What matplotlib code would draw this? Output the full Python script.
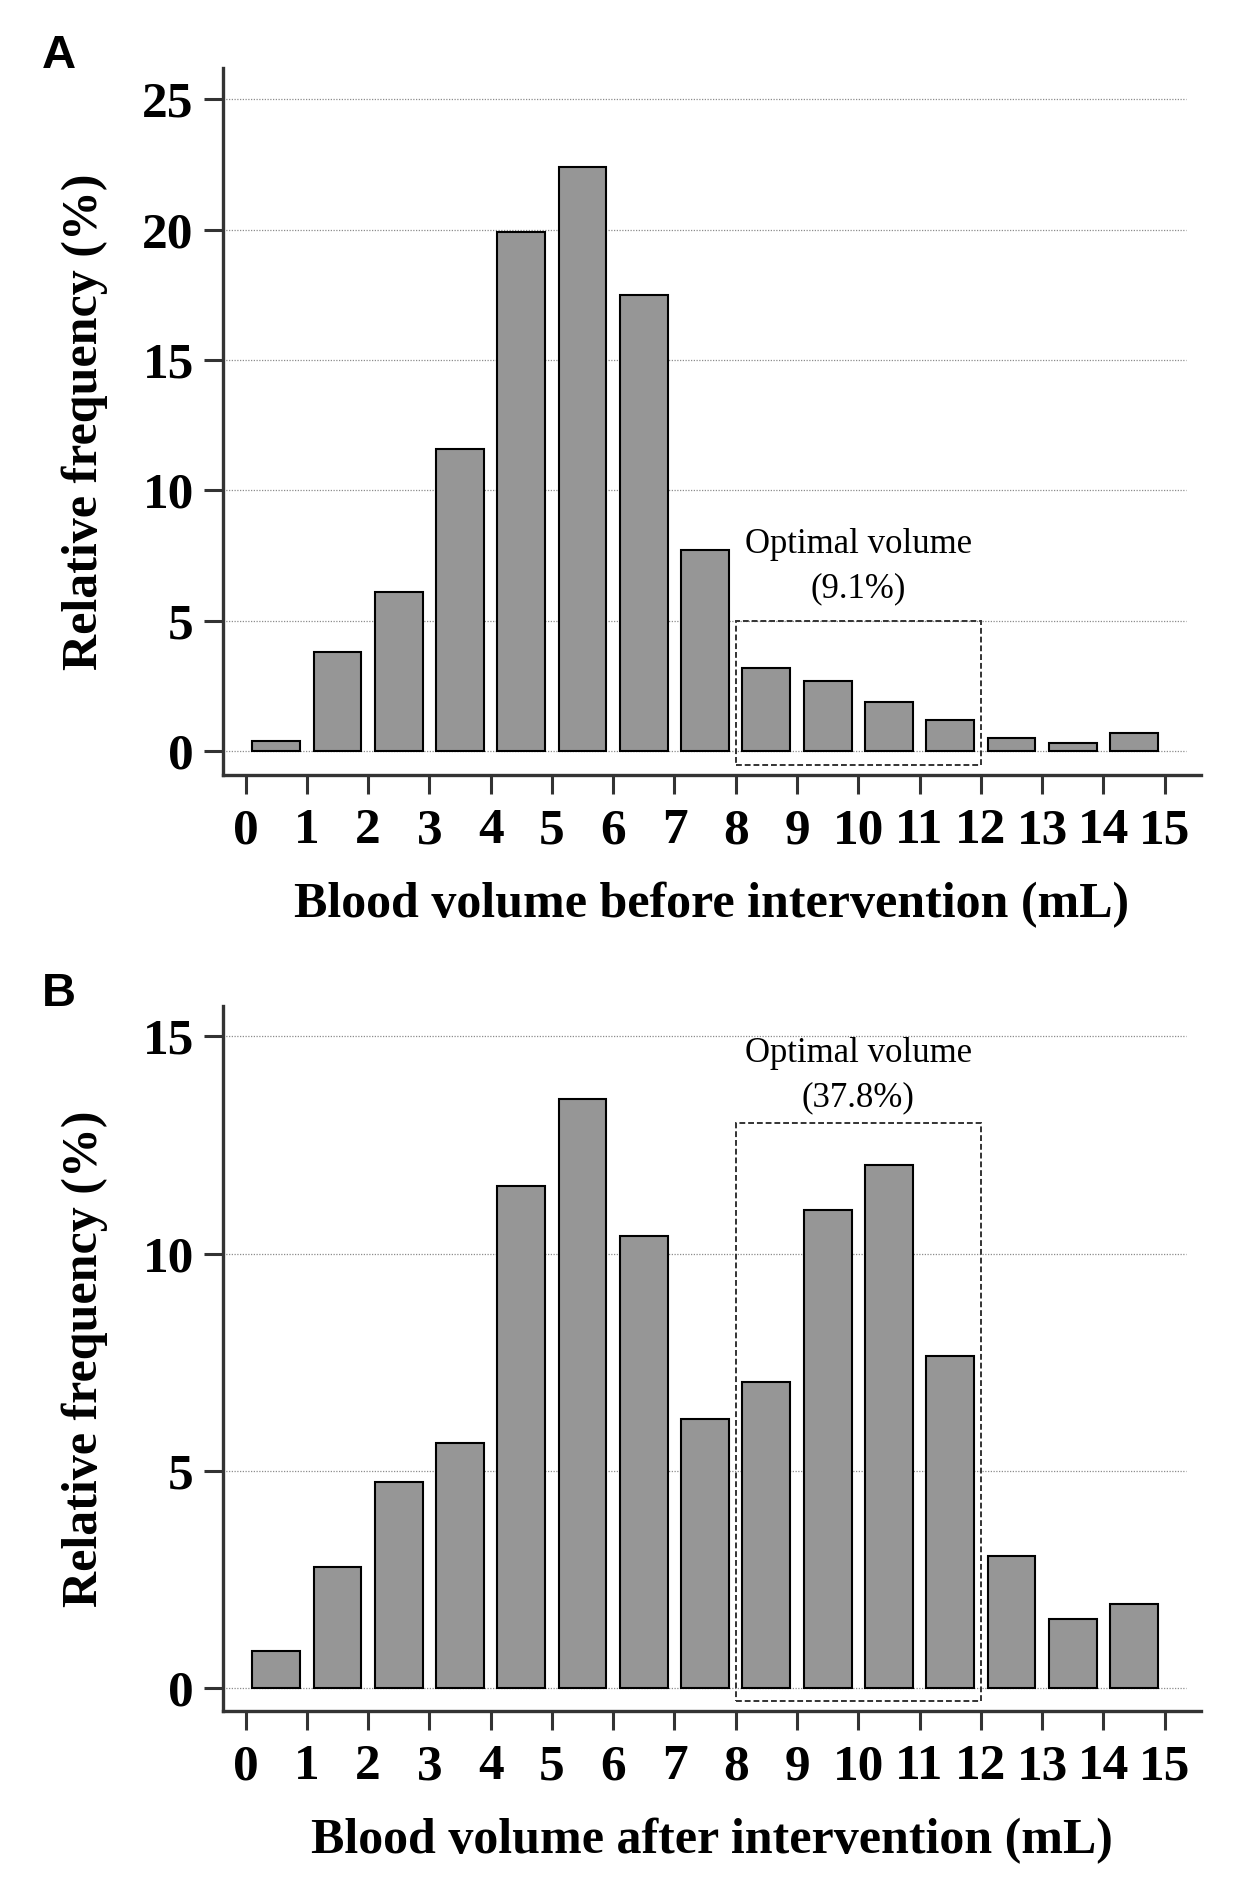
import numpy as np
import matplotlib
matplotlib.use("Agg")
import matplotlib.pyplot as plt
import matplotlib.patches as patches

# bins: 0-1 mL, 1-2 mL, ... 14-15 mL
bins = np.arange(0, 15)
freq_before = [0.4, 3.8, 6.1, 11.6, 19.9, 22.4, 17.5, 7.7, 3.2, 2.7, 1.9, 1.2, 0.5, 0.3, 0.7]
freq_after = [0.85, 2.8, 4.75, 5.65, 11.55, 13.55, 10.4, 6.2, 7.05, 11.0, 12.05, 7.65, 3.05, 1.6, 1.95]
xticks = np.arange(0, 16)
yticks_a = [0, 5, 10, 15, 20, 25]
yticks_b = [0, 5, 10, 15]
optimal_range = (8, 12)
optimal_pct_a = "9.1%"
optimal_pct_b = "37.8%"

plt.rcParams['font.family'] = ['Liberation Serif', 'DejaVu Serif']

fig = plt.figure(figsize=(12.56, 18.8), dpi=100)
ax_a = fig.add_axes([0.1775, 0.5877, 0.956 - 0.1775, 0.9638 - 0.5877])
ax_b = fig.add_axes([0.1775, 0.0899, 0.956 - 0.1775, 0.4649 - 0.0899])

def draw_panel(ax, values, yticks, ylim, box_y, text_y, pct, xlabel, letter):
    ax.hlines(yticks, -0.37, 15.35, colors='#8c8c8c', linestyles=(0, (1, 1.2)),
              linewidth=0.9, zorder=0)
    ax.bar(bins + 0.5, values, width=0.78, color='#969696', edgecolor='black',
           linewidth=1.5, zorder=2)
    ax.add_patch(patches.Rectangle((optimal_range[0], box_y[0]),
                                   optimal_range[1] - optimal_range[0],
                                   box_y[1] - box_y[0], fill=False,
                                   edgecolor='#333333', linestyle=(0, (3, 1.5)),
                                   linewidth=1.4, zorder=3))
    ax.text(sum(optimal_range) / 2, text_y, 'Optimal volume\n(%s)' % pct,
            ha='center', va='bottom', fontsize=25, linespacing=1.45)
    ax.set_xlim(-0.37, 15.59)
    ax.set_ylim(*ylim)
    ax.set_xticks(xticks)
    ax.set_yticks(yticks)
    ax.set_xticklabels([str(t) for t in xticks], fontsize=37, fontweight='bold')
    ax.set_yticklabels([str(t) for t in yticks], fontsize=37, fontweight='bold')
    ax.tick_params(direction='out', length=14, width=2.2, color='#333333', pad=7)
    ax.tick_params(axis='x', pad=10)
    for s in ['top', 'right']:
        ax.spines[s].set_visible(False)
    for s in ['left', 'bottom']:
        ax.spines[s].set_linewidth(2.4)
        ax.spines[s].set_color('#333333')
    ax.set_xlabel(xlabel, fontsize=36, fontweight='bold', labelpad=20)
    ax.set_ylabel('Relative frequency (%)', fontsize=36, fontweight='bold', labelpad=25)
    ax.text(-0.185, 1.0, letter, transform=ax.transAxes, fontsize=34,
            fontweight='bold', family=['Liberation Sans', 'DejaVu Sans'],
            ha='left', va='baseline')

draw_panel(ax_a, freq_before, yticks_a, (-0.92, 26.2), (-0.55, 5.0), 5.6,
           optimal_pct_a, 'Blood volume before intervention (mL)', 'A')
draw_panel(ax_b, freq_after, yticks_b, (-0.52, 15.7), (-0.3, 13.0), 13.2,
           optimal_pct_b, 'Blood volume after intervention (mL)', 'B')

fig.savefig('out.png', dpi=100)
